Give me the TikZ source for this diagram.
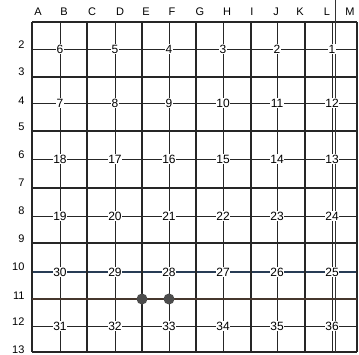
\documentclass[tikz,border=0pt]{standalone}
\usepackage{fontspec}
\setmainfont{Liberation Sans}
\begin{document}
\begin{tikzpicture}[x=1pt,y=-1pt,
  thickline/.style={line width=1.5pt,black!85},
  thinline/.style={line width=0.9pt,black!85},
  secnum/.style={fill=white,inner sep=0.5pt,font=\fontsize{12}{12}\selectfont},
  collab/.style={font=\fontsize{11}{11}\selectfont},
  rowlab/.style={anchor=east,font=\fontsize{11}{11}\selectfont},
  well/.style={circle,fill=black!70,inner sep=0pt,minimum size=11pt}]
\useasboundingbox (0,0) rectangle (359,355);
% grid coordinates
\foreach \c/\x in {A/32,B/60,C/87,D/115,E/142,F/169,G/196,H/223,I/251,J/277,K/305,L/332,M/357}{
  \foreach \r/\y in {1/22,2/49,3/77,4/103,5/131,6/159,7/188,8/216,9/243,10/272,11/299,12/326,13/352}{
    \coordinate (\c\r) at (\x,\y);
  }
}
\coordinate (Xtop) at (335,0);
\coordinate (Xbot) at (335,352);
% thin lines
\foreach \c in {B,D,F,H,J,L}{\draw[thinline] (\c1) -- (\c13);}
\foreach \r in {2,4,6,8,12}{\draw[thinline] (A\r) -- (M\r);}
\draw[line width=1.3pt,color={rgb,255:red,40;green,60;blue,85}] (A10) -- (M10);
% thick lines
\foreach \c in {A,C,E,G,I,K,M}{\draw[thickline] (\c1) -- (\c13);}
\foreach \r in {1,3,5,7,9,13}{\draw[thickline] (A\r) -- (M\r);}
\draw[line width=2.4pt,color={rgb,255:red,245;green,215;blue,190}] (A11) -- (M11);
\draw[line width=1.1pt,color={rgb,255:red,70;green,55;blue,45}] (A11) -- (M11);
\draw[line width=0.9pt,black!80] (Xtop) -- (Xbot);
% section numbers
\foreach \r/\list in {2/{6,5,4,3,2,1},4/{7,8,9,10,11,12},6/{18,17,16,15,14,13},8/{19,20,21,22,23,24},10/{30,29,28,27,26,25},12/{31,32,33,34,35,36}}{
  \foreach \n [count=\i] in \list{
    \pgfmathsetmacro{\cc}{{"B","D","F","H","J","L"}[\i-1]}
    \node[secnum] (s\n) at (\cc\r) {\n};
  }
}
% wells
\node[well] (w1) at (E11) {};
\node[well] (w2) at (F11) {};
% column letters
\foreach \l/\x in {A/38,B/64,C/92,D/120,E/146,F/172,G/200,H/227,I/252,J/276,K/300,L/327,M/350}{
  \node[collab] (l\l) at (\x,12) {\l};
}
% row labels
\foreach \r/\y in {2/45,3/72,4/101,5/127,6/155,7/183,8/211,9/239,10/267,11/296,12/322,13/350}{
  \node[rowlab] (r\r) at (28,\y) {\r};
}
\end{tikzpicture}
\end{document}
